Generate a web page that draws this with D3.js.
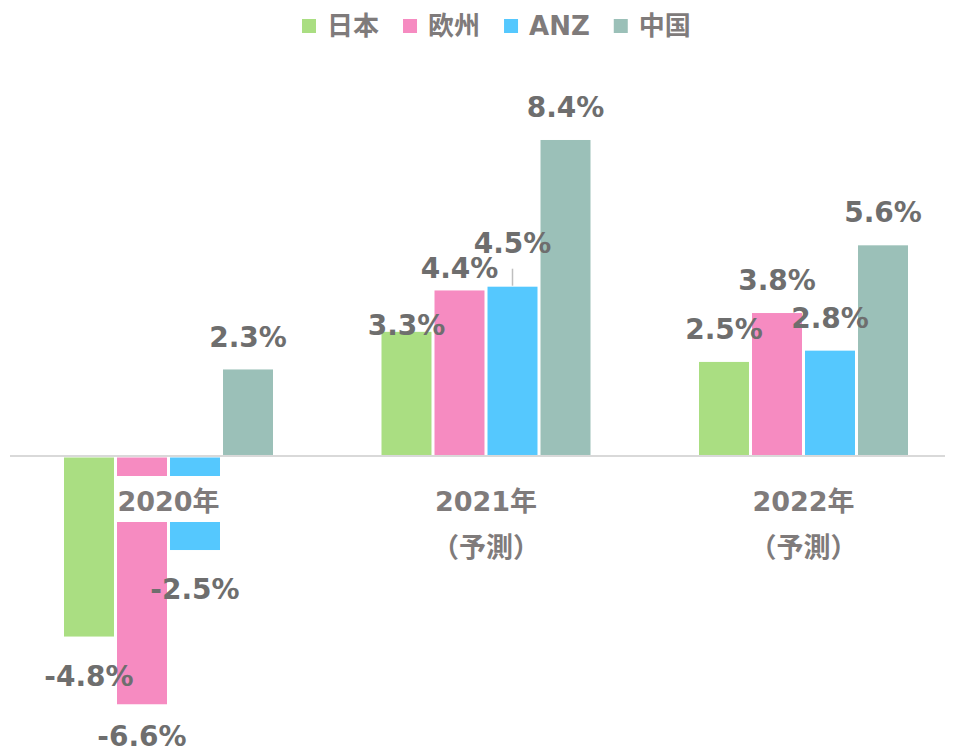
<!DOCTYPE html>
<html>
<head>
<meta charset="utf-8">
<script src="https://cdn.jsdelivr.net/npm/d3@7"></script>
<style>
  html, body { margin: 0; padding: 0; background: #ffffff; }
  svg { display: block; }
</style>
</head>
<body>
<script>
// ---- data ----
const categories = ["2020年", "2021年", "2022年"];
const categorySub = ["", "（予測）", "（予測）"];
const seriesNames = ["日本", "欧州", "ANZ", "中国"];
const japan  = [-4.8, 3.3, 2.5];
const europe = [-6.6, 4.4, 3.8];
const anz    = [-2.5, 4.5, 2.8];
const china  = [2.3, 8.4, 5.6];
const seriesValues = [japan, europe, anz, china];

// ---- style / layout ----
const colors = ["#aade82", "#f68bc1", "#55c8fe", "#9bc0b8"];
// extra label lift (px) for crowded labels: [category][series]
const labelLift = [
  [0, 7, 0, 0],
  [-26, -10, 11, 0],
  [0, 0, 0, 0]
];
const leaderFor = [[1, 2]]; // [category, series] labels with a leader line

const W = 955, H = 755;
const FONT = "'DejaVu Sans', 'Noto Sans CJK JP', sans-serif";

const svg = d3.select("body").append("svg")
  .attr("width", W).attr("height", H)
  .style("font-family", FONT);

const x0 = d3.scaleBand().domain(categories).range([9.75, 962.25]).padding(0);
const x1 = d3.scaleBand().domain(seriesNames)
  .range([54.25, 263.25]).paddingInner(0.057).paddingOuter(0);
const y = d3.scaleLinear().domain([-7.8, 10]).range([749.4, 79.8]);

const rows = [];
categories.forEach((c, ci) => {
  seriesNames.forEach((s, si) => {
    rows.push({ c, ci, s, si, v: seriesValues[si][ci] });
  });
});

// bars
svg.append("g").selectAll("rect").data(rows).join("rect")
  .attr("x", d => x0(d.c) + x1(d.s))
  .attr("width", x1.bandwidth())
  .attr("y", d => d.v >= 0 ? y(d.v) : y(0) + 1.5)
  .attr("height", d => d.v >= 0 ? y(0) - 1 - y(d.v) : y(d.v) - y(0) - 1.5)
  .attr("fill", d => colors[d.si]);

// zero axis line
svg.append("line")
  .attr("x1", 10).attr("x2", 945)
  .attr("y1", y(0)).attr("y2", y(0))
  .attr("stroke", "#d9d9d9").attr("stroke-width", 2);

// category labels with white background box
const catG = svg.append("g");
categories.forEach((c, ci) => {
  const cx = x0(c) + x0.bandwidth() / 2;
  const base = 510.5;
  catG.append("rect")
    .attr("x", cx - 53).attr("y", base - 34.5)
    .attr("width", 106).attr("height", 46)
    .attr("fill", "#ffffff");
  catG.append("text")
    .attr("x", cx).attr("y", base)
    .attr("text-anchor", "middle")
    .attr("font-size", 27).attr("font-weight", "bold")
    .attr("fill", "#7f7b7b")
    .text(c);
  if (categorySub[ci]) {
    catG.append("text")
      .attr("x", cx).attr("y", base + 46)
      .attr("text-anchor", "middle")
      .attr("font-size", 27).attr("font-weight", "bold")
      .attr("fill", "#7f7b7b")
      .text(categorySub[ci]);
  }
});

// data labels
const fmt = v => v.toFixed(1) + "%";
const labG = svg.append("g");
rows.forEach(d => {
  const cx = x0(d.c) + x1(d.s) + x1.bandwidth() / 2;
  const lift = labelLift[d.ci][d.si];
  let cy;
  if (d.v >= 0) cy = y(d.v) - 33 - lift;
  else cy = y(d.v) + 39 - lift;
  labG.append("text")
    .attr("x", cx).attr("y", cy)
    .attr("dy", "0.36em")
    .attr("text-anchor", "middle")
    .attr("font-size", 28).attr("font-weight", "bold")
    .attr("fill", "#6e6e6e")
    .text(fmt(d.v));
  if (leaderFor.some(p => p[0] === d.ci && p[1] === d.si)) {
    labG.append("line")
      .attr("x1", cx).attr("x2", cx)
      .attr("y1", cy + 26).attr("y2", y(d.v) - 1)
      .attr("stroke", "#bfbfbf").attr("stroke-width", 1.5);
  }
});

// legend
const leg = svg.append("g");
let lx = 302;
seriesNames.forEach((s, i) => {
  leg.append("rect")
    .attr("x", lx).attr("y", 19).attr("width", 14).attr("height", 14)
    .attr("fill", colors[i]);
  const t = leg.append("text")
    .attr("x", lx + 25).attr("y", 35)
    .attr("font-size", 26).attr("font-weight", "bold")
    .attr("fill", "#7f7b7b")
    .text(s);
  lx += 25 + t.node().getComputedTextLength() + 24;
});
</script>
</body>
</html>
